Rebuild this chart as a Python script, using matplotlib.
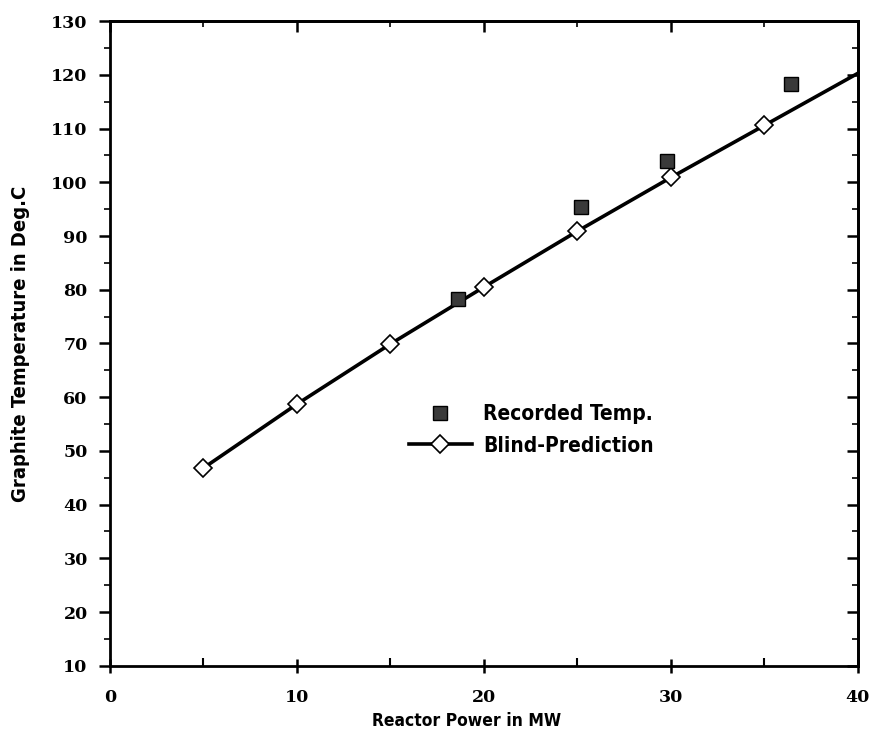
import matplotlib
matplotlib.use("Agg")
import matplotlib.pyplot as plt
from matplotlib.ticker import MultipleLocator

# Data
pred_x = [5, 10, 15, 20, 25, 30, 35, 40]
pred_y = [46.8, 58.7, 69.9, 80.5, 90.9, 100.9, 110.6, 120.3]
rec_x = [18.6, 25.2, 29.8, 36.4]
rec_y = [78.3, 95.4, 104.0, 118.3]

xlabel = "Reactor Power in MW"
ylabel = "Graphite Temperature in Deg.C"
label_rec = "Recorded Temp."
label_pred = "Blind-Prediction"

fig = plt.figure(figsize=(8.79, 7.30), dpi=100)
ax = fig.add_axes([0.125, 0.088, 0.851, 0.883])

ax.plot(pred_x, pred_y, color="black", lw=2.6, marker="D", markersize=9,
        markerfacecolor="white", markeredgecolor="black", markeredgewidth=1.2,
        markevery=slice(0, 7), label=label_pred, zorder=3)
ax.plot(rec_x, rec_y, linestyle="none", marker="s", markersize=10,
        markerfacecolor="#3a3a3a", markeredgecolor="black", markeredgewidth=1.0,
        label=label_rec, zorder=4)

ax.set_xlim(0, 40)
ax.set_ylim(10, 130)
ax.xaxis.set_major_locator(MultipleLocator(10))
ax.xaxis.set_minor_locator(MultipleLocator(5))
ax.yaxis.set_major_locator(MultipleLocator(10))
ax.yaxis.set_minor_locator(MultipleLocator(5))

for s in ax.spines.values():
    s.set_linewidth(2.0)

ax.tick_params(axis="y", which="major", direction="out", length=8, width=1.8, left=True, right=False)
ax.tick_params(axis="y", which="minor", direction="out", length=4, width=1.2, left=True, right=False)
ax.tick_params(axis="x", which="major", direction="inout", length=10, width=1.8, top=False)
ax.tick_params(axis="x", which="minor", direction="in", length=6, width=1.5, top=False)

axr = ax.secondary_yaxis("right")
axr.yaxis.set_major_locator(MultipleLocator(10))
axr.yaxis.set_minor_locator(MultipleLocator(5))
axr.tick_params(which="major", direction="in", length=8, width=1.8, labelright=False)
axr.tick_params(which="minor", direction="in", length=4, width=1.2)
axt = ax.secondary_xaxis("top")
axt.xaxis.set_major_locator(MultipleLocator(10))
axt.xaxis.set_minor_locator(MultipleLocator(5))
axt.tick_params(which="major", direction="in", length=8, width=1.8, labeltop=False)
axt.tick_params(which="minor", direction="in", length=4, width=1.2)
for a in (axr, axt):
    for s in a.spines.values():
        s.set_linewidth(2.0)

for lbl in ax.get_xticklabels() + ax.get_yticklabels():
    lbl.set_fontfamily(["DejaVu Serif"])
    lbl.set_fontweight("bold")
    lbl.set_fontsize(12.5)
ax.tick_params(axis="y", pad=8)
ax.tick_params(axis="x", pad=12)

ax.set_xlabel(xlabel, family=["DejaVu Sans"], stretch="condensed", weight="bold",
              size=12.5, labelpad=4)
ax.xaxis.set_label_coords(0.477, -0.072)
ax.set_ylabel(ylabel, family=["DejaVu Sans"], stretch="condensed", weight="bold",
              size=14.5, labelpad=14)
ax.yaxis.set_label_coords(-0.107, 0.5)

h, l = ax.get_legend_handles_labels()
leg = ax.legend([h[1], h[0]], [l[1], l[0]], loc="center left",
                bbox_to_anchor=(0.375, 0.366), frameon=False,
                prop=dict(family=["DejaVu Sans"], stretch="condensed", weight="bold", size=15),
                handlelength=3.0, handletextpad=0.55, labelspacing=0.55)

fig.savefig("out.png", dpi=100)
